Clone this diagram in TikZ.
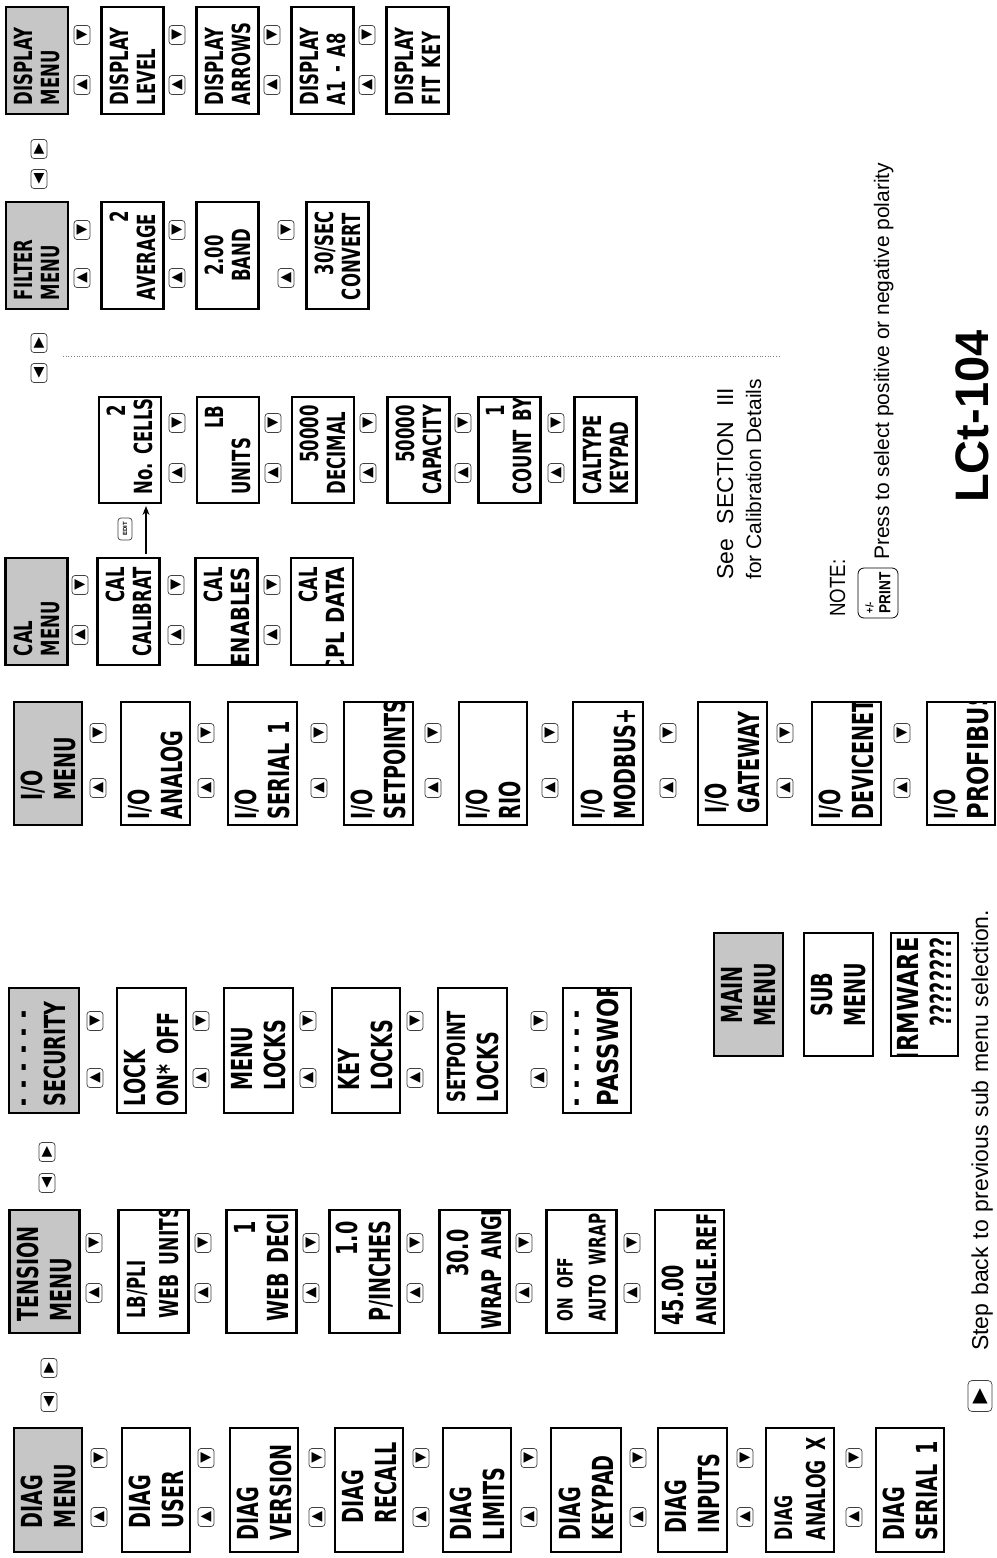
\documentclass[tikz,border=0pt]{standalone}
\usepackage{fontspec}
\usetikzlibrary{calc,arrows.meta}
\newfontfamily\lcdf[FakeStretch=0.66]{DejaVu Sans}
\newfontfamily\lcdw[FakeStretch=0.78]{DejaVu Sans}
\newfontfamily\notef[FakeStretch=0.85]{Liberation Sans}
\newfontfamily\titlef{Liberation Sans}
\newfontfamily\symf{DejaVu Sans}
\definecolor{menugray}{RGB}{198,198,198}
\newcommand\rgt{\hspace*{\fill}}
\newcommand\lcd[9]{%
  \node[#6, minimum width=#4pt, minimum height=#5pt] (#1) at (#2,#3) {};
  \begin{scope}
    \clip (#1.south west) rectangle (#1.north east);
    \node[#7] (#1-t) at ($(#1.center)+(#9)$) {#8};
  \end{scope}}
\begin{document}
\begin{tikzpicture}[x=1pt,y=-1pt,
  lcdbox/.style={draw, line width=2.4pt, inner sep=0pt, outer sep=0pt, fill=white},
  menubox/.style={lcdbox, fill=menugray},
  lcdtxt/.style={rotate=90, align=left, inner sep=0pt},
  smtxt/.style={lcdtxt, text width=89pt, font=\lcdf\bfseries\fontsize{25}{27}\selectfont},
  bgtxt/.style={lcdtxt, text width=100pt, font=\lcdf\bfseries\fontsize{29}{33}\selectfont},
  keyb/.style={draw=black!75, line width=0.7pt, rounded corners=3pt, minimum width=16pt, minimum height=19pt, inner sep=0pt, font=\symf\fontsize{14}{14}\selectfont},
  note/.style={rotate=90, inner sep=0pt, anchor=base west, font=\titlef\fontsize{21}{24}\selectfont}]
\useasboundingbox (0,0) rectangle (996,1558);
\fill[white] (0,0) rectangle (996,1558);

% ---------- DISPLAY row
\lcd{dm}{37}{60.5}{62}{107}{menubox}{smtxt}{DISPLAY\\MENU}{0,0}
\lcd{dl}{132.5}{60.5}{62}{107}{lcdbox}{smtxt}{DISPLAY\\LEVEL}{0,0}
\lcd{da}{227.5}{60.5}{62}{107}{lcdbox}{smtxt}{DISPLAY\\ARROWS}{0,0}
\lcd{dn}{322.5}{60.5}{62}{107}{lcdbox}{smtxt}{DISPLAY\\A1~-~A8}{0,0}
\lcd{df}{417.5}{60.5}{62}{107}{lcdbox}{smtxt}{DISPLAY\\FIT~KEY}{0,0}
\foreach \x [count=\i] in {82,177,272,367}
  {\node[keyb] (dd\i) at (\x,35) {▶}; \node[keyb] (du\i) at (\x,85) {◀};}

% ---------- FILTER row
\lcd{fm}{37}{255.5}{62}{107}{menubox}{smtxt}{FILTER\\MENU}{0,0}
\lcd{fa}{132.5}{255.5}{62}{107}{lcdbox}{smtxt}{\rgt 2\\AVERAGE}{0,0}
\lcd{fb}{227.5}{255.5}{62}{107}{lcdbox}{smtxt, align=center}{2.00\\BAND}{0,0}
\lcd{fc}{337.5}{255.5}{62}{107}{lcdbox}{smtxt}{\rgt 30/SEC\\CONVERT}{0,0}
\foreach \x [count=\i] in {82,177,286}
  {\node[keyb] (fd\i) at (\x,230) {▶}; \node[keyb] (fu\i) at (\x,278) {◀};}

% ---------- between-row keys
\node[keyb] (xa1) at (39,149) {▲};
\node[keyb] (xb1) at (39,179) {▼};
\node[keyb] (xa2) at (39,343) {▲};
\node[keyb] (xb2) at (39,373) {▼};
\node[keyb] (xa3) at (47,1152) {▲};
\node[keyb] (xb3) at (47,1183) {▼};
\node[keyb] (xa4) at (49,1368) {▲};
\node[keyb] (xb4) at (49,1402) {▼};

% ---------- dotted separator
\coordinate (dotA) at (63,356);
\coordinate (dotB) at (780,356);
\draw[gray, dotted, line width=0.7pt] (dotA) -- (dotB);

% ---------- CAL sub row
\lcd{nc}{130}{450}{62}{106}{lcdbox}{smtxt}{\rgt 2\\No.~CELLS}{0,0}
\lcd{un}{228}{450}{62}{106}{lcdbox}{smtxt}{\rgt LB\\UNITS}{0,0}
\lcd{de}{323}{450}{62}{106}{lcdbox}{smtxt}{\rgt 50000\\DECIMAL}{0,0}
\lcd{ca}{418.5}{450}{62}{106}{lcdbox}{smtxt}{\rgt 50000\\CAPACITY}{0,0}
\lcd{cb}{509.5}{450}{62}{106}{lcdbox}{smtxt}{\rgt 1\\COUNT~BY}{0,0}
\lcd{ct}{605.5}{450}{62}{106}{lcdbox}{smtxt}{CALTYPE\\KEYPAD}{0,0}
\foreach \x [count=\i] in {177,273,368,463,556}
  {\node[keyb] (nd\i) at (\x,423) {▶}; \node[keyb] (nu\i) at (\x,473) {◀};}

% ---------- CAL row
\lcd{cm}{36.5}{611.5}{62}{107}{menubox}{smtxt}{CAL\\MENU}{0,0}
\lcd{cc}{128.5}{611.5}{62}{107}{lcdbox}{smtxt}{\rgt CAL\\\rgt\llap{CALIBRAT}}{0,0}
\lcd{ce}{226.5}{611.5}{62}{107}{lcdbox}{smtxt}{\rgt CAL\\\rgt\llap{\lcdw ENABLES}}{0,0}
\lcd{cp}{322}{611.5}{62}{107}{lcdbox}{smtxt}{\rgt CAL\\\rgt\llap{\lcdw CPL~DATA}}{0,0}
\foreach \x [count=\i] in {80,176,272}
  {\node[keyb] (cd\i) at (\x,585) {▶}; \node[keyb] (cu\i) at (\x,635) {◀};}

% EDIT key and arrow
\node[keyb, rotate=90, minimum width=22pt, minimum height=14pt, font=\titlef\bfseries\fontsize{6}{6}\selectfont] (edit) at (125,529) {EDIT};
\draw[line width=1.4pt, -{Stealth[length=9pt,width=7pt]}] ([xshift=17.5pt,yshift=4pt]cc.north) -- ([xshift=16pt,yshift=-3pt]nc.south);

% ---------- notes
\node[note, font=\titlef\fontsize{23}{26}\selectfont] (see1) at (733,580) {\makebox[192pt][s]{See SECTION III}};
\node[note] (see2) at (761,580) {for Calibration Details};
\node[note, font=\notef\fontsize{22}{24}\selectfont] (notel) at (845,617) {NOTE:};
\node[draw, line width=0.8pt, rounded corners=6pt, rotate=90, minimum width=50pt, minimum height=40pt, inner sep=0pt, align=left, font=\notef\bfseries\fontsize{16}{17}\selectfont] (print) at (878,593) {{\fontsize{11}{11}\selectfont +/-}\\PRINT};
\node[note] (press) at (889,560) {\makebox[397pt][s]{Press to select positive or negative polarity}};
\node[rotate=90, inner sep=0pt, anchor=base west, font=\titlef\bfseries\fontsize{47}{50}\selectfont] (title) at (988,503) {LCt-104};

% ---------- I/O row
\lcd{im}{48}{763.5}{68}{123}{menubox}{bgtxt}{I/O\\MENU}{0,-13}
\lcd{ia}{155.5}{763.5}{69}{123}{lcdbox}{bgtxt}{I/O\\ANALOG}{0,6}
\lcd{is}{262.5}{763.5}{69}{123}{lcdbox}{bgtxt}{I/O\\SERIAL~1}{0,6}
\lcd{ip}{378.5}{763.5}{69}{123}{lcdbox}{bgtxt}{I/O\\SETPOINTS}{0,6}
\lcd{ir}{493}{763.5}{68}{123}{lcdbox}{bgtxt}{I/O\\RIO}{0,6}
\lcd{imb}{608}{763.5}{70}{123}{lcdbox}{bgtxt}{I/O\\MODBUS+}{0,6}
\lcd{ig}{732.5}{763.5}{69}{123}{lcdbox}{bgtxt}{I/O\\GATEWAY}{0,0}
\lcd{idn}{846.5}{763.5}{69}{123}{lcdbox}{bgtxt}{I/O\\DEVICENET}{0,6}
\lcd{ipb}{961}{763.5}{68}{123}{lcdbox}{bgtxt}{I/O\\{\lcdw PROFIBUS}}{0,6}
\foreach \x [count=\i] in {98,206,319,433,550,668,785,902}
  {\node[keyb] (id\i) at (\x,733) {▶}; \node[keyb] (iu\i) at (\x,788) {◀};}

% ---------- SECURITY row
\lcd{sec}{44}{1050.5}{70}{125}{menubox}{bgtxt}{-~-~-~-~-~-\\SECURITY}{0,6}
\lcd{slk}{151.5}{1050.5}{69}{125}{lcdbox}{bgtxt}{LOCK\\ON*~OFF}{0,6}
\lcd{sml}{258.5}{1050.5}{69}{125}{lcdbox}{bgtxt}{MENU\\LOCKS}{0,-10}
\lcd{skl}{366}{1050.5}{68}{125}{lcdbox}{bgtxt}{KEY\\LOCKS}{0,-10}
\lcd{ssl}{472.5}{1050.5}{69}{125}{lcdbox}{bgtxt}{{\fontsize{25}{25}\selectfont SETPOINT}\\LOCKS}{0,2}
\lcd{spw}{597}{1050.5}{68}{125}{lcdbox}{bgtxt}{-~-~-~-~-~-\\{\lcdw PASSWORD}}{0,6}
\foreach \x [count=\i] in {95,201,308,415,539}
  {\node[keyb] (sd\i) at (\x,1021) {▶}; \node[keyb] (su\i) at (\x,1078) {◀};}

% ---------- legend boxes
\lcd{mm}{748.5}{994.5}{69}{123}{menubox}{bgtxt, align=center}{MAIN\\MENU}{0,0}
\lcd{sbm}{838.5}{994.5}{69}{123}{lcdbox}{bgtxt, align=center}{SUB\\MENU}{0,0}
\lcd{fw}{924.5}{994.5}{67}{123}{lcdbox}{bgtxt}{\rgt\llap{\lcdw FIRMWARE}\\\rgt ????????}{0,-7}

% ---------- TENSION row
\lcd{tm}{44.5}{1271.5}{70}{123}{menubox}{bgtxt}{TENSION\\MENU}{0,0}
\lcd{tu}{153.5}{1271.5}{70}{123}{lcdbox}{bgtxt}{{\fontsize{25}{25}\selectfont LB/PLI}\\{\fontsize{26}{26}\selectfont WEB~UNITS}}{0,-3}
\lcd{td}{261.5}{1271.5}{70}{123}{lcdbox}{bgtxt}{\rgt 1\\WEB~DECI}{0,0}
\lcd{tp}{364.5}{1271.5}{70}{123}{lcdbox}{bgtxt}{\rgt 1.0\\P/INCHES}{0,0}
\lcd{tw}{474.5}{1271.5}{70}{123}{lcdbox}{bgtxt}{\rgt 30.0\\{\fontsize{27}{27}\selectfont WRAP~ANGL}}{0,8}
\lcd{ta}{581.5}{1271.5}{70}{123}{lcdbox}{bgtxt}{{\fontsize{21}{21}\selectfont ON~OFF}\\{\fontsize{23}{23}\selectfont AUTO~WRAP}}{0,0}
\lcd{tr}{689.5}{1271.5}{69}{123}{lcdbox}{bgtxt}{45.00\\{\fontsize{27}{27}\selectfont ANGLE.REF}}{0,4}
\foreach \x [count=\i] in {94,203,311,415,524,632}
  {\node[keyb] (td\i) at (\x,1243) {▶}; \node[keyb] (tu\i) at (\x,1293) {◀};}

% ---------- DIAG row
\lcd{gm}{48}{1490}{68}{124}{menubox}{bgtxt}{DIAG\\MENU}{0,-12}
\lcd{gu}{156}{1490}{68}{124}{lcdbox}{bgtxt}{DIAG\\USER}{0,-12}
\lcd{gv}{264}{1490}{68}{124}{lcdbox}{bgtxt}{DIAG\\VERSION}{0,0}
\lcd{gr}{369}{1490}{68}{124}{lcdbox}{bgtxt}{DIAG\\RECALL}{0,-17}
\lcd{gl}{477}{1490}{68}{124}{lcdbox}{bgtxt}{DIAG\\LIMITS}{0,0}
\lcd{gk}{586}{1490}{70}{124}{lcdbox}{bgtxt}{DIAG\\KEYPAD}{0,0}
\lcd{gi}{692.5}{1490}{69}{124}{lcdbox}{bgtxt}{DIAG\\INPUTS}{0,-7}
\lcd{ga}{800}{1490}{68}{124}{lcdbox}{bgtxt}{{\fontsize{24}{24}\selectfont DIAG}\\{\fontsize{26}{26}\selectfont ANALOG~X}}{0,0}
\lcd{gs}{910}{1490}{68}{124}{lcdbox}{bgtxt}{DIAG\\SERIAL~1}{0,0}
\foreach \x [count=\i] in {99,206,317,421,529,638,745,854}
  {\node[keyb] (gd\i) at (\x,1458) {▶}; \node[keyb] (gu\i) at (\x,1517) {◀};}

% ---------- step back note
\node[keyb, minimum width=24pt, minimum height=31pt, rounded corners=4pt, font=\symf\fontsize{20}{20}\selectfont] (sbk) at (980,1396) {▲};
\node[note, font=\titlef\fontsize{23}{26}\selectfont] (step) at (988,1351) {\makebox[441pt][s]{Step back to previous sub menu selection.}};
\end{tikzpicture}
\end{document}
